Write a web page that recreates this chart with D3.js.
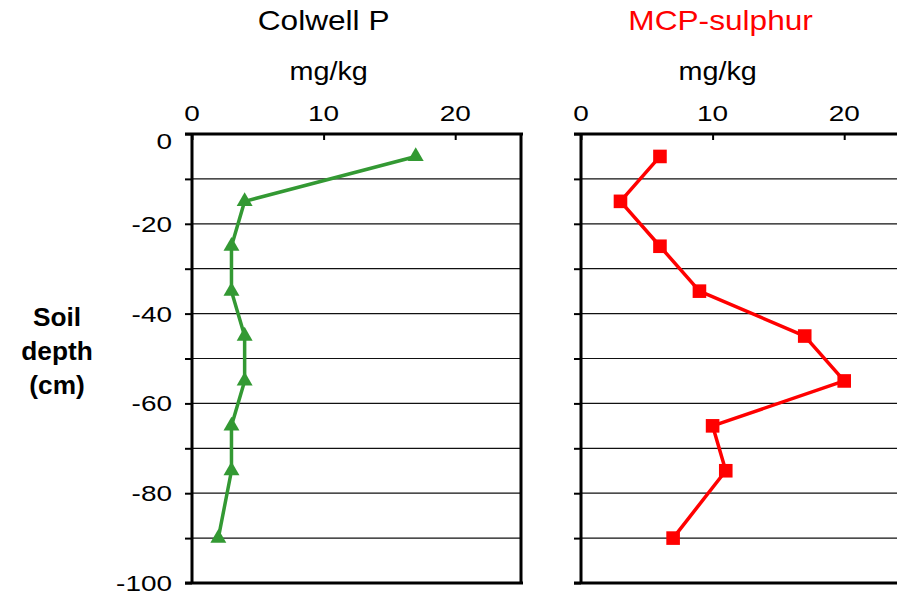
<!DOCTYPE html>
<html>
<head>
<meta charset="utf-8">
<script src="https://cdn.jsdelivr.net/npm/d3@7"></script>
<style>
  body { margin: 0; background: #fff; overflow: hidden; }
  svg { font-family: "Liberation Sans", Arial, sans-serif; }
</style>
</head>
<body>
<svg id="chart" width="897" height="595"></svg>
<script>
// depth of each sample (cm)
const depths = [-5, -15, -25, -35, -45, -55, -65, -75, -90];
const colwellP = [17, 4, 3, 3, 4, 4, 3, 3, 2];
const mcpSulphur = [6, 3, 6, 9, 17, 20, 10, 11, 7];
const xTicks = [0, 10, 20];
const yLabelTicks = [0, -20, -40, -60, -80, -100];
const yGridTicks = [-10, -20, -30, -40, -50, -60, -70, -80, -90];

const svg = d3.select("#chart");
const plotTop = 134, plotBottom = 583;

const y = d3.scaleLinear().domain([0, -100]).range([plotTop, plotBottom]);

// the original picture is a bit stretched sideways, so text is too
function label(g, x, yy, txt, size, sx, anchor) {
    return g.append("text")
        .attr("transform", `translate(${x},${yy}) scale(${sx},1)`)
        .attr("text-anchor", anchor).attr("font-size", size)
        .text(txt);
}

function panel(left, title, titleColor, values, color, marker, showLabels, rightBorder, titleDx, unitDx) {
    const x = d3.scaleLinear().domain([0, 25]).range([left, left + 329]);
    const g = svg.append("g");

    // gridlines
    g.selectAll("line.grid").data(yGridTicks).join("line")
        .attr("x1", left).attr("x2", x(25))
        .attr("y1", d => y(d)).attr("y2", d => y(d))
        .attr("stroke", "#111").attr("stroke-width", 1.2);

    // top axis (ticks inward)
    g.append("g")
        .attr("transform", `translate(0,${plotTop})`)
        .call(d3.axisBottom(x).tickValues(xTicks).tickSize(6).tickFormat(""))
        .call(a => a.select(".domain").remove())
        .call(a => a.selectAll("line").attr("stroke-width", 2));
    xTicks.forEach(t => label(g, x(t), plotTop - 13, t, 21.5, 1.3, "middle"));

    // left axis (ticks outward)
    g.append("g")
        .attr("transform", `translate(${left},0)`)
        .call(d3.axisLeft(y).tickValues(d3.range(0, -101, -10)).tickSize(7).tickFormat(""))
        .call(a => a.select(".domain").remove())
        .call(a => a.selectAll("line").attr("stroke-width", 2));
    if (showLabels) {
        yLabelTicks.forEach(t => label(g, left - 20, y(t) + 8 + (t === 0 ? 7 : 0), t, 21.5, 1.3, "end"));
    }

    // frame
    g.append("line").attr("x1", left).attr("x2", left).attr("y1", plotTop - 1).attr("y2", plotBottom + 1)
        .attr("stroke", "#000").attr("stroke-width", 3);
    g.append("line").attr("x1", left - 7).attr("x2", x(25) + 2).attr("y1", plotTop).attr("y2", plotTop)
        .attr("stroke", "#000").attr("stroke-width", 3);
    g.append("line").attr("x1", left - 7).attr("x2", x(25) + 2).attr("y1", plotBottom).attr("y2", plotBottom)
        .attr("stroke", "#000").attr("stroke-width", 3);
    if (rightBorder) {
        g.append("line").attr("x1", x(25)).attr("x2", x(25)).attr("y1", plotTop).attr("y2", plotBottom)
            .attr("stroke", "#000").attr("stroke-width", 3);
    }

    // series
    const pts = depths.map((d, i) => [values[i], d]);
    g.append("path").datum(pts)
        .attr("fill", "none").attr("stroke", color).attr("stroke-width", 3.5)
        .attr("stroke-linejoin", "round")
        .attr("d", d3.line().x(d => x(d[0])).y(d => y(d[1])));
    g.selectAll("path.m").data(pts).join("path")
        .attr("transform", d => `translate(${x(d[0])},${y(d[1])})`)
        .attr("d", d3.symbol().type(marker).size(marker === d3.symbolSquare ? 185 : 110))
        .attr("fill", color);

    // titles
    label(g, x(10) + titleDx, 30, title, 27.5, 1.15, "middle").attr("fill", titleColor);
    label(g, x(10) + unitDx, 80, "mg/kg", 25, 1.15, "middle");
}

panel(192, "Colwell P", "#000", colwellP, "#339933", d3.symbolTriangle, true, true, 0, 5);
panel(581, "MCP-sulphur", "#ff0000", mcpSulphur, "#ff0000", d3.symbolSquare, false, false, 8, 5);

// y axis title
["Soil", "depth", "(cm)"].forEach((t, i) => {
    label(svg, 57, 326 + i * 34, t, 25, 1.05, "middle").attr("font-weight", "bold");
});
</script>
</body>
</html>
